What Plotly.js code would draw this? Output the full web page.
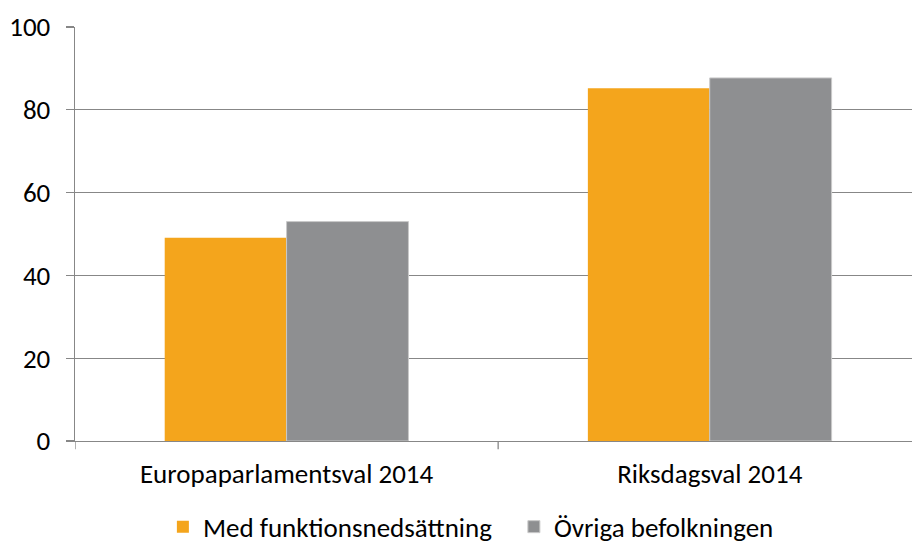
<!DOCTYPE html>
<html>
<head>
<meta charset="utf-8">
<script src="https://cdn.plot.ly/plotly-3.0.1.min.js"></script>
<style>html,body{margin:0;padding:0;background:#fff;}#chart{width:912px;height:543px;}</style>
</head>
<body>
<div id="chart"></div>
<script>
const categories = ["Europaparlamentsval 2014", "Riksdagsval 2014"];
const seriesNames = ["Med funktionsnedsättning", "Övriga befolkningen"];
const medFunktion = [49.1, 85.2];
const ovriga = [53.0, 87.7];
const yTicks = [0, 20, 40, 60, 80, 100];

const FONT = "Carlito, Calibri, 'Liberation Sans Narrow', 'Open Sans', sans-serif";

const traces = [
  {type: "bar", name: seriesNames[0], x: [0, 1], y: medFunktion,
   marker: {color: "#f4a51c", line: {width: 0}}},
  {type: "bar", name: seriesNames[1], x: [0, 1], y: ovriga,
   marker: {color: "#8e8f91", line: {width: 1, color: "#c9c9c9"}}}
];

const layout = {
  width: 912, height: 543,
  margin: {l: 75, r: 0, t: 27, b: 102, pad: 0, autoexpand: false},
  paper_bgcolor: "#fff", plot_bgcolor: "#fff",
  font: {family: FONT, size: 27, color: "#000"},
  barmode: "group", bargap: 0.424, bargroupgap: 0,
  showlegend: true,
  legend: {orientation: "h", x: 0.105, xanchor: "left",
           y: -0.208, yanchor: "middle",
           font: {family: FONT, size: 27, color: "#000"}, traceorder: "normal",
           itemwidth: 30, entrywidth: 306, entrywidthmode: "pixels"},
  xaxis: {
    type: "linear", range: [-0.5, 1.478],
    tickmode: "array", tickvals: [0, 1], ticktext: categories,
    showgrid: false, zeroline: false,
    showline: true, linecolor: "#878787", linewidth: 1.3,
    ticks: "", ticklabelstandoff: 8,
    fixedrange: true
  },
  yaxis: {
    range: [0, 100], tickmode: "array", tickvals: yTicks,
    showgrid: true, gridcolor: "#878787", gridwidth: 1.3,
    zeroline: false, showline: true, linecolor: "#878787", linewidth: 1.3,
    ticks: "outside", ticklen: 8, tickcolor: "#878787", tickwidth: 1.3,
    ticklabelstandoff: 10
  },
  shapes: [0.5, -0.5].map(v => ({type: "line", xref: "x", yref: "paper",
     x0: v, x1: v, y0: 0, y1: -0.02, line: {color: "#878787", width: 1.3}})),
};

Plotly.newPlot("chart", traces, layout, {displayModeBar: false, staticPlot: true});
</script>
</body>
</html>
